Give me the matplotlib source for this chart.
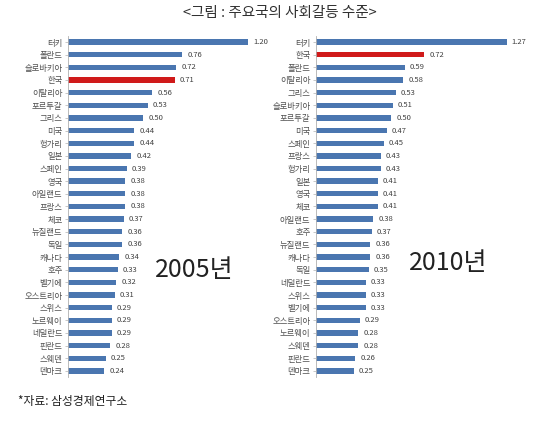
import matplotlib.pyplot as plt

plt.rcParams['font.family'] = ['Noto Sans CJK KR', 'DejaVu Sans']

countries_2005 = ["터키", "폴란드", "슬로바키아", "한국", "이탈리아", "포르투갈", "그리스", "미국",
                  "헝가리", "일본", "스페인", "영국", "아일랜드", "프랑스", "체코", "뉴질랜드",
                  "독일", "캐나다", "호주", "벨기에", "오스트리아", "스위스", "노르웨이",
                  "네덜란드", "핀란드", "스웨덴", "덴마크"]
values_2005 = [1.20, 0.76, 0.72, 0.71, 0.56, 0.53, 0.50, 0.44, 0.44, 0.42, 0.39, 0.38,
               0.38, 0.38, 0.37, 0.36, 0.36, 0.34, 0.33, 0.32, 0.31, 0.29, 0.29, 0.29,
               0.28, 0.25, 0.24]

countries_2010 = ["터키", "한국", "폴란드", "이탈리아", "그리스", "슬로바키아", "포르투갈", "미국",
                  "스페인", "프랑스", "헝가리", "일본", "영국", "체코", "아일랜드", "호주",
                  "뉴질랜드", "캐나다", "독일", "네덜란드", "스위스", "벨기에", "오스트리아",
                  "노르웨이", "스웨덴", "핀란드", "덴마크"]
values_2010 = [1.27, 0.72, 0.59, 0.58, 0.53, 0.51, 0.50, 0.47, 0.45, 0.43, 0.43, 0.41,
               0.41, 0.41, 0.38, 0.37, 0.36, 0.36, 0.35, 0.33, 0.33, 0.33, 0.29, 0.28,
               0.28, 0.26, 0.25]

W, H = 560, 421
BLUE = "#4a76b0"
RED = "#d01a1a"

fig = plt.figure(figsize=(W / 100, H / 100), dpi=100)
fig.patch.set_facecolor("white")

row_px = 12.65
n = len(countries_2005)


def draw_panel(left_px, names, vals):
    top_px = 42 - row_px / 2
    height_px = row_px * n
    ax = fig.add_axes([left_px / W, (H - top_px - height_px) / H, 210 / W, height_px / H])
    colors = [RED if c == "한국" else BLUE for c in names]
    ypos = list(range(n))
    ax.barh(ypos, vals, height=0.42, color=colors)
    ax.set_ylim(n - 0.5, -0.5)
    ax.set_xlim(0, 1.4)
    ax.set_yticks(ypos)
    ax.set_yticklabels(names, fontsize=6, color="#505050")
    ax.tick_params(axis="y", length=2, width=0.5, color="#b0b0b0", pad=2)
    ax.set_xticks([])
    for s in ["top", "right", "bottom"]:
        ax.spines[s].set_visible(False)
    ax.spines["left"].set_color("#b0b0b0")
    ax.spines["left"].set_linewidth(0.6)
    for y, v in zip(ypos, vals):
        ax.text(v + 0.035, y, f"{v:.2f}", fontsize=5.5, color="#404040",
                va="center", ha="left")
    return ax


draw_panel(68, countries_2005, values_2005)
draw_panel(316, countries_2010, values_2010)

fig.text(280 / W, 1 - 13 / H, "<그림 : 주요국의 사회갈등 수준>", ha="center", va="center",
         fontsize=10.5, color="#303030")
fig.text(194 / W, 1 - 270 / H, "2005년", ha="center", va="center", fontsize=18,
         color="#222222")
fig.text(448 / W, 1 - 263 / H, "2010년", ha="center", va="center", fontsize=18,
         color="#222222")
fig.text(18 / W, 1 - 401 / H, "*자료: 삼성경제연구소", ha="left", va="center",
         fontsize=8.5, color="#202020")

fig.savefig("out.png", dpi=100, facecolor="white")
